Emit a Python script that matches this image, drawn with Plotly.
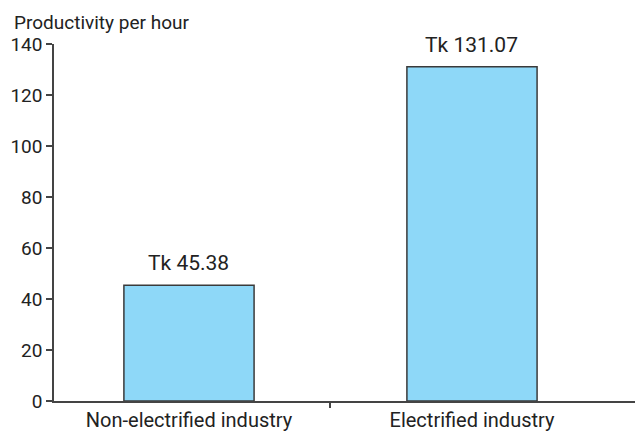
import plotly.graph_objects as go

categories = ["Non-electrified industry", "Electrified industry"]
values = [45.38, 131.07]
labels = ["Tk 45.38", "Tk 131.07"]
y_ticks = [0, 20, 40, 60, 80, 100, 120, 140]

FONT = "Roboto, sans-serif"
xpos = list(range(len(categories)))

fig = go.Figure()
fig.add_trace(go.Bar(
    x=xpos, y=values, width=0.46,
    marker=dict(color="#8ED8F8", line=dict(color="#3a3a3a", width=1.5)),
    hoverinfo="skip",
))
for xi, v, t in zip(xpos, values, labels):
    fig.add_annotation(x=xi, y=v, text=t, showarrow=False, yanchor="bottom",
                       yshift=8, font=dict(family=FONT, size=21, color="#222"))

fig.update_layout(
    width=635, height=432,
    margin=dict(l=54, r=0, t=44, b=31),
    paper_bgcolor="white", plot_bgcolor="white",
    showlegend=False,
    font=dict(family=FONT, size=19, color="#222"),
    xaxis=dict(
        range=[-0.477, 1.576], tickmode="array", tickvals=xpos, ticktext=categories,
        ticks="", showgrid=False, zeroline=False,
        showline=True, linecolor="#444", linewidth=1.5,
        minor=dict(tickmode="array", tickvals=[0.5], ticks="outside", ticklen=5,
                   tickcolor="#444", tickwidth=1.5, showgrid=False),
        tickfont=dict(family=FONT, size=20, color="#222"),
    ),
    yaxis=dict(
        range=[0, 140], tickmode="array", tickvals=y_ticks,
        ticks="outside", ticklen=6, tickcolor="#444", tickwidth=1.5,
        showgrid=False, zeroline=False,
        showline=True, linecolor="#444", linewidth=1.5,
        tickfont=dict(family=FONT, size=19, color="#222"),
    ),
    annotations=list(fig.layout.annotations) + [
        dict(text="Productivity per hour", xref="paper", yref="paper",
             x=-42/581, y=1, xanchor="left", yanchor="bottom", yshift=8,
             showarrow=False, font=dict(family=FONT, size=19, color="#222"))
    ],
)

fig.write_html("out.html")
